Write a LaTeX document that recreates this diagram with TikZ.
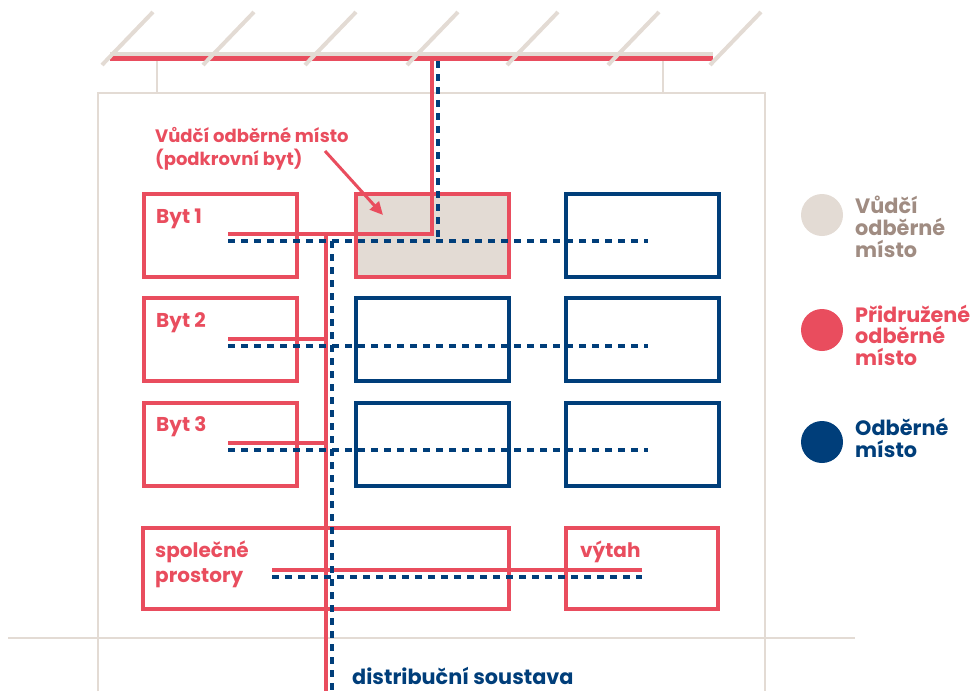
\documentclass[tikz,border=0pt]{standalone}
\usepackage{fontspec}
\setmainfont{Poppins}
\usetikzlibrary{arrows.meta}
\definecolor{cred}{RGB}{233,77,94}
\definecolor{cblue}{RGB}{0,62,122}
\definecolor{cbeige}{RGB}{227,219,212}
\definecolor{cbeigetxt}{RGB}{160,140,130}
\begin{document}
\begin{tikzpicture}[x=1pt,y=-1pt,
  flatbox/.style={inner sep=0pt, outer sep=0pt, line width=4pt, minimum width=153pt, minimum height=83pt},
  redbox/.style={flatbox, draw=cred},
  bluebox/.style={flatbox, draw=cblue},
  frame/.style={draw=cbeige, line width=2.5pt},
  hatch/.style={draw=cbeige, line width=4pt},
  redline/.style={draw=cred, line width=3.5pt},
  blueline/.style={draw=cblue, line width=4pt, dash pattern=on 7pt off 6pt},
  lbl/.style={anchor=base west, inner sep=0pt, font=\fontsize{20}{22}\selectfont\bfseries},
  biglbl/.style={lbl, font=\fontsize{20.8}{22}\selectfont\bfseries},
  titlelbl/.style={lbl, font=\fontsize{18}{22}\selectfont\bfseries},
  dot/.style={circle, inner sep=0pt, minimum size=42pt}]
\useasboundingbox (0,0) rectangle (973,691);

% building frame and ground
\coordinate (bl) at (98,691); \coordinate (tl) at (98,93);
\coordinate (tr) at (765,93); \coordinate (br) at (765,691);
\draw[frame] (bl) -- (tl) -- (tr) -- (br);
\coordinate (g1) at (8,638); \coordinate (g2) at (855,638);
\draw[frame] (g1) -- (g2);
% roof
\coordinate (r1) at (110,54); \coordinate (r2) at (713,54);
\draw[draw=cbeige, line width=4pt] (r1) -- (r2);
\coordinate (s1a) at (157,56); \coordinate (s1b) at (157,93);
\coordinate (s2a) at (663,56); \coordinate (s2b) at (663,93);
\draw[draw=cbeige, line width=2pt] (s1a) -- (s1b) (s2a) -- (s2b);
\coordinate (rr1) at (110,58.5); \coordinate (rr2) at (713,58.5);
\draw[draw=cred, line width=5pt] (rr1) -- (rr2);

% boxes
\node[redbox] (byt1) at (220.5,235.5) {};
\node[redbox, fill=cbeige] (podkrovi) at (432,235.5) {};
\node[bluebox] (b13) at (642.5,235.5) {};
\node[redbox] (byt2) at (220.5,339.5) {};
\node[bluebox] (b22) at (432,339.5) {};
\node[bluebox] (b23) at (642.5,339.5) {};
\node[redbox] (byt3) at (220.5,444) {};
\node[bluebox] (b32) at (432,444) {};
\node[bluebox] (b33) at (642.5,444) {};
\node[redbox, minimum width=366pt, minimum height=81pt] (spol) at (326,568.5) {};
\node[redbox, minimum width=152pt, minimum height=81pt] (vytah) at (642,568.5) {};

% red lines (associated)
\coordinate (rtop) at (432,58.5); \coordinate (rj) at (432,234);
\coordinate (r1e) at (228,234); \coordinate (rv1) at (326,234); \coordinate (rv2) at (326,691);
\draw[redline] (rtop) -- (rj) -- (r1e);
\draw[redline] (rv1) -- (rv2);
\coordinate (r2a) at (228,339); \coordinate (r2b) at (326,339);
\coordinate (r3a) at (228,443); \coordinate (r3b) at (326,443);
\draw[redline] (r2a) -- (r2b);
\draw[redline] (r3a) -- (r3b);
\coordinate (r4a) at (272,570); \coordinate (r4b) at (642,570);
\draw[redline] (r4a) -- (r4b);

% blue dashed lines
\coordinate (btop) at (438,61); \coordinate (bj) at (438,241);
\draw[blueline] (btop) -- (bj);
\coordinate (b1a) at (228,241); \coordinate (b1b) at (648,241);
\draw[blueline] (b1a) -- (b1b);
\coordinate (bv1) at (332,241); \coordinate (bv2) at (332,691);
\draw[blueline] (bv1) -- (bv2);
\coordinate (b2a) at (228,346); \coordinate (b2b) at (648,346);
\draw[blueline] (b2a) -- (b2b);
\coordinate (b3a) at (228,450); \coordinate (b3b) at (648,450);
\draw[blueline] (b3a) -- (b3b);
\coordinate (b4a) at (272,577); \coordinate (b4b) at (642,577);
\draw[blueline] (b4a) -- (b4b);

% roof hatches
\foreach \i/\hx in {1/102,2/203,3/305,4/407,5/507,6/608,7/710}{
  \coordinate (h\i a) at (\hx,65); \coordinate (h\i b) at (\hx+51,12);
  \draw[hatch] (h\i a) -- (h\i b);
}

% labels
\node[titlelbl, text=cred] (t1) at (155,142) {Vůdčí odběrné místo};
\node[titlelbl, text=cred] (t2) at (155,165) {(podkrovní byt)};
\coordinate (arrs) at (325,151);
\coordinate (arre) at (383,215);
\draw[draw=cred, line width=3pt, -{Triangle[length=13pt,width=12pt]}] (arrs) -- (arre);
\node[lbl, text=cred] (l1) at (156,223) {Byt 1};
\node[lbl, text=cred] (l2) at (156,327) {Byt 2};
\node[lbl, text=cred] (l3) at (156,431) {Byt 3};
\node[lbl, text=cred] (l4) at (155,557) {společné};
\node[lbl, text=cred] (l5) at (155,582) {prostory};
\node[lbl, text=cred] (l6) at (580,557) {výtah};
\node[biglbl, text=cblue] (ds) at (352,684) {distribuční soustava};

% legend
\node[dot, fill=cbeige] (d1) at (822,215) {};
\node[dot, fill=cred] (d2) at (822,330) {};
\node[dot, fill=cblue] (d3) at (822,442) {};
\node[biglbl, text=cbeigetxt] (g1a) at (855,213) {Vůdčí};
\node[biglbl, text=cbeigetxt] (g1b) at (855,235) {odběrné};
\node[biglbl, text=cbeigetxt] (g1c) at (855,257) {místo};
\node[biglbl, text=cred] (g2a) at (855,322) {Přidružené};
\node[biglbl, text=cred] (g2b) at (855,343) {odběrné};
\node[biglbl, text=cred] (g2c) at (855,365) {místo};
\node[biglbl, text=cblue] (g3a) at (855,435) {Odběrné};
\node[biglbl, text=cblue] (g3b) at (855,457) {místo};
\end{tikzpicture}
\end{document}
